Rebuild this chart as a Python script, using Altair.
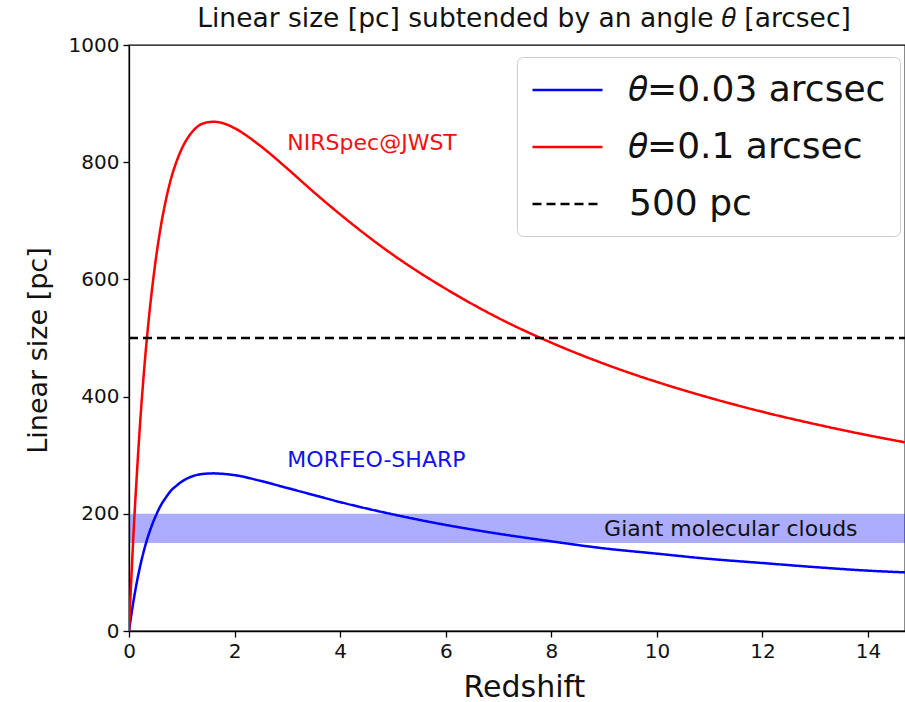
import altair as alt
import pandas as pd

# --- data (linear size in pc vs redshift) ---
z_red = [0, 0.05, 0.1, 0.15, 0.2, 0.3, 0.4, 0.5, 0.6, 0.7, 0.8, 0.9, 1.0, 1.2, 1.4, 1.6,
         1.8, 2.0, 2.5, 3.0, 3.5, 4, 5, 6, 7, 8, 9, 10, 11, 12, 13, 14, 14.7]
v_red = [0, 101, 191, 269, 341, 460, 554, 629, 689, 736, 773, 801, 823, 852, 866, 869,
         866, 858, 827, 789, 749, 711, 642, 584, 534, 492, 456, 425, 398, 374, 353, 334, 322]

z_blue = [0, 0.05, 0.1, 0.15, 0.2, 0.3, 0.4, 0.5, 0.6, 0.7, 0.8, 0.9, 1.0, 1.2, 1.4, 1.6,
          1.8, 2.0, 2.5, 3.0, 3.5, 4, 5, 6, 7, 8, 9, 10, 11, 12, 13, 14, 14.7]
v_blue = [0, 31, 59, 84, 106, 143, 172, 195, 214, 228, 240, 248, 255, 264, 268, 269,
          268, 266, 256, 244, 232, 220, 199, 181, 166, 153, 141, 132, 123, 116, 109, 103, 100]

z_ref = [0, 14.7]
v_ref = [500, 500]

series_names = ["𝜃=0.03 arcsec", "𝜃=0.1 arcsec", "500 pc"]
series_colors = ["#0000ff", "#ff0000", "#000000"]
series_dash = [[1, 0], [1, 0], [9, 5]]

band_low, band_high = 150, 200

ann_text = ["NIRSpec@JWST", "MORFEO-SHARP", "Giant molecular clouds"]
ann_x = [3.0, 3.0, 9.0]
ann_y = [820, 280, 162]
ann_color = ["#ee1111", "#1111ee", "#111111"]

x_ticks = [0, 2, 4, 6, 8, 10, 12, 14]
y_ticks = [0, 200, 400, 600, 800, 1000]

# --- tables ---
rows = []
for z, v in zip(z_blue, v_blue):
    rows.append({"z": z, "v": v, "series": series_names[0]})
for z, v in zip(z_red, v_red):
    rows.append({"z": z, "v": v, "series": series_names[1]})
for z, v in zip(z_ref, v_ref):
    rows.append({"z": z, "v": v, "series": series_names[2]})
lines_df = pd.DataFrame(rows)

ann_df = pd.DataFrame({"text": ann_text, "x": ann_x, "y": ann_y, "c": ann_color})
band_df = pd.DataFrame({"lo": [band_low], "hi": [band_high]})

FONT = "DejaVu Sans"

xscale = alt.Scale(domain=[0, 14.7], nice=False, zero=False, padding=0)
yscale = alt.Scale(domain=[0, 1000], nice=False, padding=0)

x_axis = alt.Axis(values=x_ticks, title="Redshift", grid=False, titleFontSize=30,
                  titleFontWeight="normal", titlePadding=11, titleX=395, labelFlush=False)
y_axis = alt.Axis(values=y_ticks, format="d", title="Linear size [pc]", grid=False,
                  titleFontSize=27, titleFontWeight="normal", titlePadding=16, titleY=305,
                  labelFlush=False)

band = alt.Chart(band_df).mark_rect(color="#0000ff", opacity=0.32).encode(
    y=alt.Y("lo:Q", scale=yscale, axis=y_axis),
    y2="hi:Q",
)

lines = alt.Chart(lines_df).mark_line(strokeWidth=2.5, interpolate="monotone", clip=True).encode(
    x=alt.X("z:Q", scale=xscale, axis=x_axis),
    y=alt.Y("v:Q", scale=yscale, axis=y_axis),
    color=alt.Color("series:N", sort=None,
                    scale=alt.Scale(domain=series_names, range=series_colors),
                    legend=alt.Legend(title=None)),
    strokeDash=alt.StrokeDash("series:N", sort=None,
                              scale=alt.Scale(domain=series_names, range=series_dash),
                              legend=alt.Legend(title=None)),
)

ann = alt.Chart(ann_df).mark_text(align="left", baseline="alphabetic", fontSize=22, font=FONT).encode(
    x=alt.X("x:Q", scale=xscale),
    y=alt.Y("y:Q", scale=yscale),
    text="text:N",
    color=alt.Color("c:N", scale=None),
)

chart = alt.layer(band, lines, ann).properties(
    width=776,
    height=586,
    title=alt.TitleParams("Linear size [pc] subtended by an angle 𝜃 [arcsec]", fontSize=26.5,
                          fontWeight="normal", font=FONT, anchor="middle", dx=7, offset=3,
                          color="#111111"),
    padding={"left": 129, "top": 45, "right": 0, "bottom": 71},
    autosize=alt.AutoSizeParams(type="none"),
).configure_view(
    stroke="#000000", strokeWidth=1.3
).configure_axis(
    labelFont=FONT, titleFont=FONT, labelFontSize=20, labelColor="#111111", titleColor="#111111",
    domainColor="#000000", domainWidth=1.3, tickColor="#000000", tickWidth=1.3, tickSize=6,
    labelPadding=4,
).configure_legend(
    orient="none", legendX=388, legendY=12, fillColor="#ffffff", strokeColor="#cccccc",
    cornerRadius=6, padding=14, labelFont=FONT, labelFontSize=36, labelColor="#111111",
    symbolType="M-1,0L3,0", symbolSize=1225, symbolStrokeWidth=2.5, labelOffset=60,
    rowPadding=20, labelLimit=500,
)

chart.save("out.html", embed_options={"renderer": "svg", "actions": False})
